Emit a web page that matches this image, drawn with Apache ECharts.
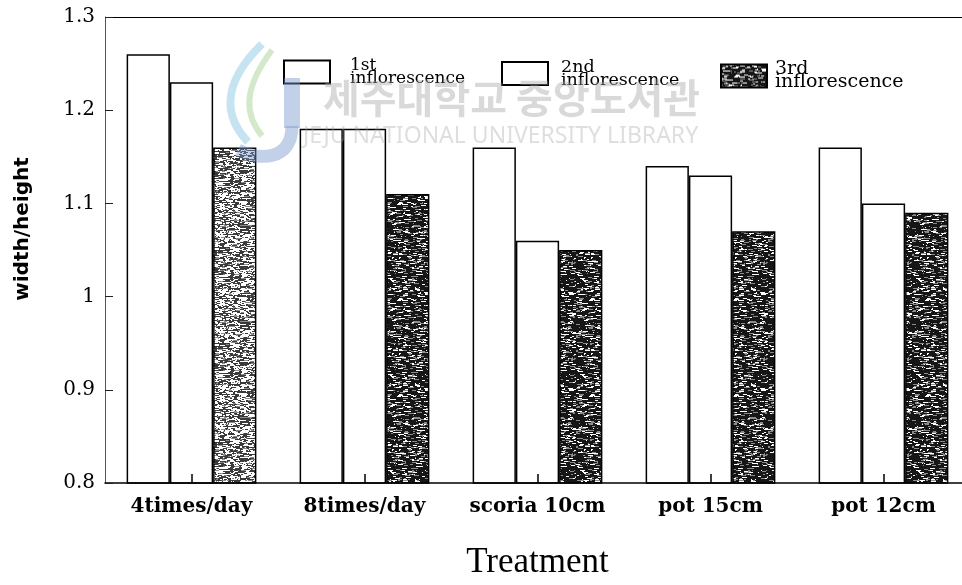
<!DOCTYPE html>
<html>
<head>
<meta charset="utf-8">
<script src="https://cdn.jsdelivr.net/npm/echarts@6/dist/echarts.min.js"></script>
<style>
html,body{margin:0;padding:0;background:#fff;overflow:hidden;}
#chart{width:976px;height:585px;}
</style>
</head>
<body>
<div id="chart"></div>
<script>
// ---- data ----
const categories = ['4times/day', '8times/day', 'scoria 10cm', 'pot 15cm', 'pot 12cm'];
const seriesNames = ['1st\ninflorescence', '2nd\ninflorescence', '3rd\ninflorescence'];
const first  = [1.26, 1.18, 1.16, 1.14, 1.16];
const second = [1.23, 1.18, 1.06, 1.13, 1.10];
const third  = [1.16, 1.11, 1.05, 1.07, 1.09];
const yMin = 0.8, yMax = 1.3, yStep = 0.1;
const xTitle = 'Treatment';
const yTitle = 'width/height';

// ---- stipple texture (deterministic) ----
function makePattern(base, lightProb, count) {
  const c = document.createElement('canvas');
  c.width = 48; c.height = 96;
  const ctx = c.getContext('2d');
  ctx.fillStyle = base;
  ctx.fillRect(0, 0, c.width, c.height);
  let seed = 987654;
  function rnd() { seed = (seed * 1103515245 + 12345) & 0x7fffffff; return seed / 0x7fffffff; }
  for (let i = 0; i < count; i++) {
    const x = Math.floor(rnd() * c.width), y = Math.floor(rnd() * c.height);
    const w = 1 + Math.floor(rnd() * 5);
    ctx.fillStyle = rnd() < lightProb ? '#ffffff' : '#8c8c8c';
    ctx.fillRect(x, y, w, 1);
  }
  return c;
}
const darkPat = makePattern('#161616', 0.5, 550);
const lightPat = makePattern('#3a3a3a', 0.8, 1400);

const chart = echarts.init(document.getElementById('chart'), null, {renderer: 'canvas'});
const serif = 'DejaVu Serif';

const barStyle = {color: '#ffffff', borderColor: '#000', borderWidth: 1.5};
const patStyle = {color: {image: darkPat, repeat: 'repeat'}, borderColor: '#000', borderWidth: 1.5};

function legendAt(name, left, top, fs, gap) {
  return {
    data: [{name: name, icon: 'rect'}], left: left, top: top, orient: 'horizontal',
    itemWidth: 46, itemHeight: 23, itemGap: 0, padding: 0,
    selectedMode: false,
    textStyle: {fontFamily: serif, fontSize: fs, lineHeight: 13, color: '#000', padding: [0, 0, 0, gap]}
  };
}

const option = {
  backgroundColor: '#fff',
  animation: false,
  grid: {left: 105, top: 17, width: 865, height: 470, containLabel: false},
  legend: [
    legendAt(seriesNames[0], 283, 57, 17, 15),
    legendAt(seriesNames[1], 501, 58, 17.5, 8),
    legendAt(seriesNames[2], 720, 60, 19, 3)
  ],
  xAxis: {
    type: 'category',
    z: 10,
    data: categories,
    name: xTitle,
    nameLocation: 'middle',
    nameGap: 62,
    nameTextStyle: {fontFamily: 'Liberation Serif', fontSize: 35, color: '#000'},
    axisLine: {lineStyle: {color: '#000', width: 1.5}},
    axisTick: {show: true, alignWithLabel: true, interval: 0, inside: true, length: 9, lineStyle: {color: '#000', width: 1.5}},
    axisLabel: {interval: 0, fontFamily: serif, fontWeight: 'bold', fontSize: 20, color: '#000', margin: 14}
  },
  yAxis: {
    type: 'value',
    z: 10,
    min: yMin, max: yMax, interval: yStep,
    axisLine: {show: true, lineStyle: {color: '#555', width: 1}},
    axisTick: {show: true, inside: true, length: 8, lineStyle: {color: '#222', width: 1}},
    splitLine: {show: false},
    axisLabel: {fontFamily: serif, fontSize: 20, color: '#000', margin: 10}
  },
  series: [
    {
      name: seriesNames[0], type: 'bar', data: first,
      barGap: '0%', barCategoryGap: '25%',
      itemStyle: barStyle,
      markLine: {
        silent: true, symbol: 'none', label: {show: false},
        lineStyle: {color: '#000', width: 1.2, type: 'solid'},
        data: [{yAxis: yMax}]
      }
    },
    {name: seriesNames[1], type: 'bar', data: second, itemStyle: barStyle},
    {
      name: seriesNames[2], type: 'bar',
      data: third.map((v, i) => i === 0 ? {value: v, itemStyle: {color: {image: lightPat, repeat: 'repeat'}}} : v),
      itemStyle: patStyle
    }
  ],
  graphic: [
    // watermark logo (light swooshes + J)
    {type: 'bezierCurve', z: 50, silent: true,
      shape: {x1: 262, y1: 44, x2: 248, y2: 142, cpx1: 220, cpy1: 85, cpx2: 225, cpy2: 118},
      style: {stroke: 'rgba(140,200,225,0.5)', lineWidth: 8, fill: null}},
    {type: 'bezierCurve', z: 50, silent: true,
      shape: {x1: 272, y1: 50, x2: 262, y2: 136, cpx1: 242, cpy1: 90, cpx2: 245, cpy2: 115},
      style: {stroke: 'rgba(170,210,150,0.5)', lineWidth: 6, fill: null}},
    {type: 'line', z: 50, silent: true,
      shape: {x1: 292, y1: 78, x2: 292, y2: 128},
      style: {stroke: 'rgba(120,150,205,0.45)', lineWidth: 16}},
    {type: 'bezierCurve', z: 50, silent: true,
      shape: {x1: 292, y1: 126, x2: 238, y2: 150, cpx1: 292, cpy1: 162, cpx2: 258, cpy2: 160},
      style: {stroke: 'rgba(120,150,205,0.45)', lineWidth: 13, fill: null}},
    {type: 'text', z: 50, silent: true, left: 323, top: 78,
      style: {text: '제주대학교 중앙도서관', font: 'bold 40px "Noto Sans CJK KR"', fill: 'rgba(160,160,160,0.4)'}},
    {type: 'text', z: 50, silent: true, left: 303, top: 125,
      style: {text: 'JEJU NATIONAL UNIVERSITY LIBRARY', font: '23px "Noto Sans"', fill: 'rgba(160,160,160,0.35)'}},
    // y-axis title
    {type: 'text', silent: true, x: 23, y: 229, rotation: Math.PI / 2,
      style: {text: yTitle, font: 'bold 20px "DejaVu Sans"', fill: '#000', align: 'center', verticalAlign: 'middle'}}
  ]
};
chart.setOption(option);
</script>
</body>
</html>
